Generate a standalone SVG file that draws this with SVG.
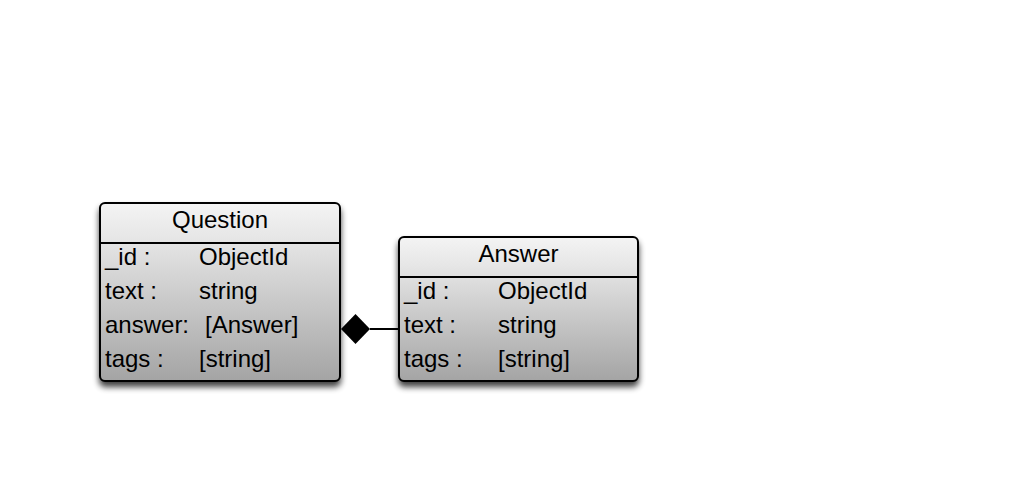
<svg xmlns="http://www.w3.org/2000/svg" width="1036" height="483" viewBox="0 0 1036 483">
<style>
.box{stroke:#000;stroke-width:2}
.div{stroke:#000;stroke-width:2}
.t{font-family:"Liberation Sans",Arial,sans-serif;font-size:24px;fill:#000}
.title{text-anchor:middle}
</style>
<defs>
<linearGradient id="g" x1="0" y1="0" x2="0" y2="1">
<stop offset="0" stop-color="#f4f4f4"/>
<stop offset="0.2" stop-color="#e6e6e6"/>
<stop offset="1" stop-color="#a4a4a4"/>
</linearGradient>
<filter id="sh" x="-10%" y="-10%" width="130%" height="130%">
<feGaussianBlur in="SourceAlpha" stdDeviation="3"/>
<feOffset dx="0" dy="5" result="b"/>
<feComponentTransfer><feFuncA type="linear" slope="0.75"/></feComponentTransfer>
<feMerge><feMergeNode/><feMergeNode in="SourceGraphic"/></feMerge>
</filter>
</defs>
<rect width="1036" height="483" fill="#fff"/>
<g id="connectors">
<line x1="370" y1="329" x2="399" y2="329" stroke="#000" stroke-width="2"/>
<polygon points="341,329 355.5,314 370,329 355.5,344" fill="#000"/>
</g>
<g id="question">
<rect class="box" x="100" y="203" width="240" height="178" rx="5" fill="url(#g)" filter="url(#sh)"/>
<line class="div" x1="100" y1="243" x2="340" y2="243"/>
<text class="t title" x="220" y="228">Question</text>
<text class="t" x="105" y="265">_id :</text><text class="t" x="199" y="265">ObjectId</text>
<text class="t" x="105" y="299">text :</text><text class="t" x="199" y="299">string</text>
<text class="t" x="105" y="333">answer:</text><text class="t" x="205" y="333">[Answer]</text>
<text class="t" x="105" y="367">tags :</text><text class="t" x="199" y="367">[string]</text>
</g>
<g id="answer">
<rect class="box" x="399" y="237" width="239" height="144" rx="5" fill="url(#g)" filter="url(#sh)"/>
<line class="div" x1="399" y1="277" x2="638" y2="277"/>
<text class="t title" x="518.5" y="262">Answer</text>
<text class="t" x="404" y="299">_id :</text><text class="t" x="498" y="299">ObjectId</text>
<text class="t" x="404" y="333">text :</text><text class="t" x="498" y="333">string</text>
<text class="t" x="404" y="367">tags :</text><text class="t" x="498" y="367">[string]</text>
</g>
</svg>
